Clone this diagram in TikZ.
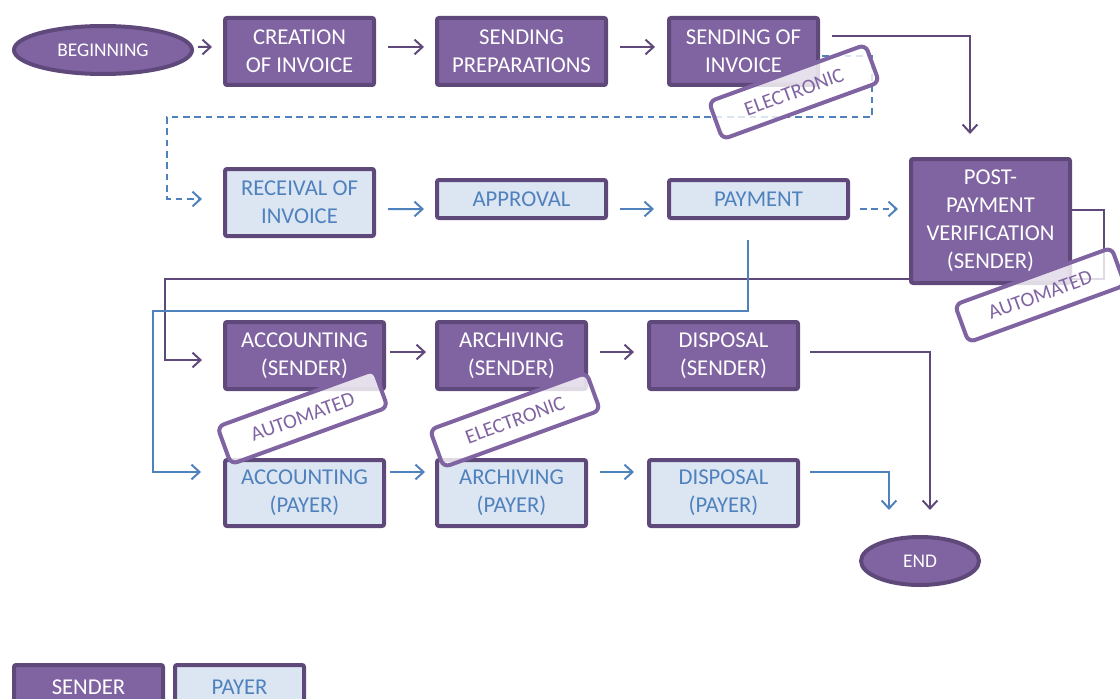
\documentclass[tikz,border=0pt]{standalone}
\usepackage{fontspec}
\setmainfont{Carlito}
\usetikzlibrary{arrows.meta,shapes.geometric,backgrounds}
\definecolor{pfill}{HTML}{8064A2}
\definecolor{pline}{HTML}{5F497A}
\definecolor{bfill}{HTML}{DCE6F2}
\definecolor{btext}{HTML}{4F81BD}
\tikzset{
 sbox/.style={draw=pline, line width=3pt, fill=pfill, text=white, rounded corners=1.5pt, align=center, font=\fontsize{17}{21}\selectfont, inner sep=0pt},
 pbox/.style={sbox, fill=bfill, text=btext},
 oval/.style={ellipse, draw=pline, line width=3pt, fill=pfill, text=white, font=\fontsize{14.5}{16}\selectfont, inner sep=0pt},
 tag/.style={draw=pfill, line width=3pt, fill=white, fill opacity=0.8, text opacity=1, text=pfill, rounded corners=5pt, rotate=20, minimum width=125pt, minimum height=30pt, font=\fontsize{15.5}{17}\selectfont, inner sep=0pt},
 parr/.style={draw=pline, line width=1.5pt, -{Straight Barb[length=6pt,width=11pt]}},
 barr/.style={parr, draw=btext},
 bdash/.style={barr, dash pattern=on 5pt off 3.5pt},
}
\begin{document}
\begin{tikzpicture}[x=0.75pt,y=-0.75pt]
\useasboundingbox (0,0) rectangle (1120,699);
% nodes
\node[oval, minimum width=133.5pt, minimum height=36pt] (begin) at (103,50) {BEGINNING};
\node[sbox, minimum width=111.75pt, minimum height=50.25pt] (creation) at (299.5,51.5) {CREATION\\OF INVOICE};
\node[sbox, minimum width=126.75pt, minimum height=50.25pt] (sendprep) at (521.5,51.5) {SENDING\\PREPARATIONS};
\node[sbox, minimum width=111.75pt, minimum height=50.25pt] (sendinv) at (743.5,51.5) {SENDING OF\\INVOICE};
\node[pbox, minimum width=111.75pt, minimum height=50.25pt] (receival) at (299.5,202.5) {RECEIVAL OF\\INVOICE};
\node[pbox, minimum width=126.75pt, minimum height=28.5pt] (approval) at (521.5,199) {APPROVAL};
\node[pbox, minimum width=134.25pt, minimum height=28.5pt] (payment) at (758.5,199) {PAYMENT};
\node[sbox, minimum width=119.25pt, minimum height=93pt] (postpay) at (990.5,221) {POST-\\PAYMENT\\VERIFICATION\\(SENDER)};
\node[sbox, minimum width=119.25pt, minimum height=50.25pt] (accs) at (304.5,355.5) {ACCOUNTING\\(SENDER)};
\node[sbox, minimum width=111.75pt, minimum height=50.25pt] (archs) at (511.5,355.5) {ARCHIVING\\(SENDER)};
\node[sbox, minimum width=111.75pt, minimum height=50.25pt] (disps) at (723.5,355.5) {DISPOSAL\\(SENDER)};
\node[pbox, minimum width=119.25pt, minimum height=49.5pt] (accp) at (304.5,493) {ACCOUNTING\\(PAYER)};
\node[pbox, minimum width=111.75pt, minimum height=49.5pt] (archp) at (511.5,493) {ARCHIVING\\(PAYER)};
\node[pbox, minimum width=111.75pt, minimum height=49.5pt] (dispp) at (723.5,493) {DISPOSAL\\(PAYER)};
\node[oval, minimum width=88.5pt, minimum height=36pt] (end) at (920,561) {END};
\node[sbox, minimum width=111.75pt, minimum height=33.75pt] (legs) at (88.5,687.5) {SENDER};
\node[pbox, minimum width=96.75pt, minimum height=33.75pt] (legp) at (239.5,687.5) {PAYER};
% connectors
\begin{scope}[on background layer]
\draw[parr, shorten <=3pt, shorten >=8.25pt] ([yshift=2.25pt]begin.east) -- ([yshift=3.4pt]creation.west);
\draw[parr, shorten <=9pt, shorten >=8.25pt] ([yshift=3.4pt]creation.east) -- ([yshift=3.4pt]sendprep.west);
\draw[parr, shorten <=9pt, shorten >=9pt] ([yshift=3.4pt]sendprep.east) -- ([yshift=3.4pt]sendinv.west);
\draw[parr, shorten <=9pt, shorten >=17.25pt] ([yshift=11.6pt]sendinv.east) -| ([xshift=-15.4pt]postpay.north);
\draw[bdash, shorten <=1.5pt, shorten >=15.75pt] ([yshift=-3.4pt]sendinv.east) -- ++(52,0) |- ++(-705,61) |- ([yshift=2.6pt]receival.west);
\draw[barr, shorten <=9pt, shorten >=8.25pt] ([yshift=-4.9pt]receival.east) -- ([yshift=-7.5pt]approval.west);
\draw[barr, shorten <=9pt, shorten >=9.75pt] ([yshift=-7.5pt]approval.east) -- ([yshift=-7.5pt]payment.west);
\draw[bdash, shorten <=7.5pt, shorten >=8.25pt] ([yshift=-7.5pt]payment.east) -- ([yshift=9pt]postpay.west);
\draw[parr, shorten >=15.75pt] ([yshift=8.25pt]postpay.east) -- ++(32,0) -- ++(0,69) -- ++(-939,0) |- ([yshift=-3.4pt]accs.west);
\draw[barr, shorten <=15pt, shorten >=16.5pt] ([xshift=-7.9pt]payment.south) -- ++(0,91) -- ++(-595,0) |- ([yshift=15.75pt]accp.west);
\draw[parr, shorten <=3pt, shorten >=6.75pt] ([yshift=2.6pt]accs.east) -- ([yshift=2.6pt]archs.west);
\draw[parr, shorten <=9pt, shorten >=9.75pt] ([yshift=2.6pt]archs.east) -- ([yshift=2.6pt]disps.west);
\draw[parr, shorten <=7.5pt, shorten >=18.75pt] ([yshift=3pt]disps.east) -| ([xshift=7.5pt]end.north);
\draw[barr, shorten <=3pt, shorten >=7.5pt] ([yshift=15.75pt]accp.east) -- ([yshift=15.75pt]archp.west);
\draw[barr, shorten <=9pt, shorten >=9.75pt] ([yshift=15.75pt]archp.east) -- ([yshift=15.75pt]dispp.west);
\draw[barr, shorten <=7.5pt, shorten >=18.75pt] ([yshift=15.75pt]dispp.east) -| ([xshift=-23.25pt]end.north);
\end{scope}
% tags
\node[tag] (tag1) at (794,92) {ELECTRONIC};
\node[tag] (tag2) at (1040,295) {AUTOMATED};
\node[tag] (tag3) at (302.5,417) {AUTOMATED};
\node[tag] (tag4) at (515,420) {ELECTRONIC};
\end{tikzpicture}
\end{document}
